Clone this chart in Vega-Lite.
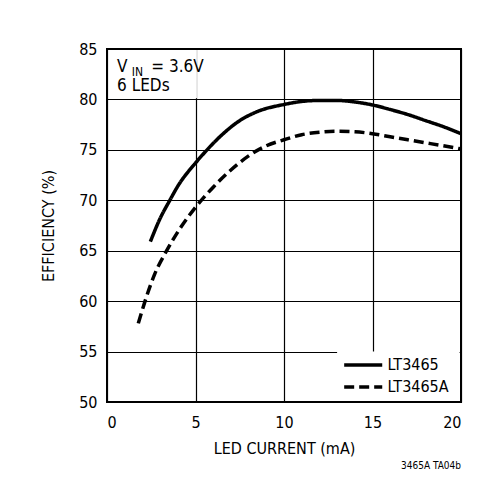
{
  "$schema": "https://vega.github.io/schema/vega-lite/v6.json",
  "autosize": "none",
  "width": 354,
  "height": 353,
  "padding": {"left": 107, "top": 49, "right": 41, "bottom": 98},
  "background": "white",
  "config": {
    "font": "DejaVu Sans Condensed",
    "view": {"stroke": "black", "strokeWidth": 2},
    "axis": {"gridColor": "black", "gridOpacity": 1, "gridWidth": 1.2, "domain": false, "ticks": false, "labelColor": "black", "titleColor": "black", "labelFontSize": 16, "titleFontSize": 16, "titleFontWeight": "normal", "labelFont": "DejaVu Sans Condensed", "titleFont": "DejaVu Sans Condensed"}
  },
  "title": {"text": "3465A TA04b", "orient": "bottom", "anchor": "end", "fontSize": 10, "fontWeight": "normal", "font": "DejaVu Sans Condensed", "offset": 5, "dx": -7, "color": "black"},
  "datasets": {
    "curves": [
      {"x": 2.45, "y": 65.9, "s": "LT3465"},
      {"x": 3.0, "y": 68.2, "s": "LT3465"},
      {"x": 3.55, "y": 70.0, "s": "LT3465"},
      {"x": 4.0, "y": 71.4, "s": "LT3465"},
      {"x": 5.0, "y": 73.7, "s": "LT3465"},
      {"x": 5.6, "y": 74.9, "s": "LT3465"},
      {"x": 6.5, "y": 76.5, "s": "LT3465"},
      {"x": 7.5, "y": 77.9, "s": "LT3465"},
      {"x": 8.5, "y": 78.8, "s": "LT3465"},
      {"x": 10.0, "y": 79.5, "s": "LT3465"},
      {"x": 11.0, "y": 79.8, "s": "LT3465"},
      {"x": 12.0, "y": 79.9, "s": "LT3465"},
      {"x": 13.0, "y": 79.9, "s": "LT3465"},
      {"x": 14.0, "y": 79.75, "s": "LT3465"},
      {"x": 15.0, "y": 79.45, "s": "LT3465"},
      {"x": 16.0, "y": 79.0, "s": "LT3465"},
      {"x": 17.0, "y": 78.5, "s": "LT3465"},
      {"x": 18.0, "y": 77.9, "s": "LT3465"},
      {"x": 19.0, "y": 77.3, "s": "LT3465"},
      {"x": 20.0, "y": 76.6, "s": "LT3465"},
      {"x": 1.77, "y": 57.8, "s": "LT3465A"},
      {"x": 2.15, "y": 60.0, "s": "LT3465A"},
      {"x": 2.7, "y": 62.7, "s": "LT3465A"},
      {"x": 3.37, "y": 65.0, "s": "LT3465A"},
      {"x": 4.2, "y": 67.4, "s": "LT3465A"},
      {"x": 5.0, "y": 69.3, "s": "LT3465A"},
      {"x": 6.0, "y": 71.3, "s": "LT3465A"},
      {"x": 7.0, "y": 73.0, "s": "LT3465A"},
      {"x": 8.0, "y": 74.4, "s": "LT3465A"},
      {"x": 9.0, "y": 75.4, "s": "LT3465A"},
      {"x": 10.0, "y": 76.0, "s": "LT3465A"},
      {"x": 11.0, "y": 76.5, "s": "LT3465A"},
      {"x": 12.0, "y": 76.75, "s": "LT3465A"},
      {"x": 13.0, "y": 76.85, "s": "LT3465A"},
      {"x": 14.0, "y": 76.8, "s": "LT3465A"},
      {"x": 15.0, "y": 76.6, "s": "LT3465A"},
      {"x": 16.0, "y": 76.3, "s": "LT3465A"},
      {"x": 17.0, "y": 76.0, "s": "LT3465A"},
      {"x": 18.0, "y": 75.7, "s": "LT3465A"},
      {"x": 19.0, "y": 75.4, "s": "LT3465A"},
      {"x": 20.0, "y": 75.1, "s": "LT3465A"}
    ],
    "boxes": [
      {"x1": 0.1, "x2": 5.08, "y1": 80.12, "y2": 84.9},
      {"x1": 13.0, "x2": 19.92, "y1": 50.1, "y2": 55.0}
    ],
    "labels": [
      {"t": "V", "x": 0.57, "y": 82.75, "size": 17},
      {"t": "IN", "x": 1.4, "y": 82.3, "size": 12},
      {"t": "= 3.6V", "x": 2.5, "y": 82.75, "size": 17},
      {"t": "6 LEDs", "x": 0.57, "y": 80.8, "size": 17}
    ],
    "legend": [
      {"s": "LT3465", "x1": 13.4, "x2": 15.55, "y": 53.67, "tx": 15.85},
      {"s": "LT3465A", "x1": 13.4, "x2": 15.55, "y": 51.49, "tx": 15.85}
    ]
  },
  "layer": [
    {
      "data": {"name": "boxes"},
      "mark": {"type": "rect", "fill": "white"},
      "encoding": {
        "x": {"field": "x1", "type": "quantitative", "scale": {"domain": [0, 20]}, "axis": {"values": [0, 5, 10, 15, 20], "title": "LED CURRENT (mA)", "labelPadding": 12, "titlePadding": 10, "grid": true}},
        "x2": {"field": "x2"},
        "y": {"field": "y1", "type": "quantitative", "scale": {"domain": [50, 85]}, "axis": {"values": [50, 55, 60, 65, 70, 75, 80, 85], "title": "EFFICIENCY (%)", "labelPadding": 10, "titlePadding": 22, "grid": true}},
        "y2": {"field": "y2"}
      }
    },
    {
      "data": {"name": "labels"},
      "mark": {"type": "text", "align": "left", "baseline": "alphabetic", "color": "black", "font": "DejaVu Sans Condensed"},
      "encoding": {
        "x": {"field": "x", "type": "quantitative"},
        "y": {"field": "y", "type": "quantitative"},
        "text": {"field": "t"},
        "size": {"field": "size", "type": "quantitative", "scale": null}
      }
    },
    {
      "data": {"name": "curves"},
      "mark": {"type": "line", "interpolate": "monotone", "strokeWidth": 3.5, "color": "black"},
      "encoding": {
        "x": {"field": "x", "type": "quantitative"},
        "y": {"field": "y", "type": "quantitative"},
        "detail": {"field": "s"},
        "strokeDash": {
          "field": "s", "type": "nominal",
          "scale": {"domain": ["LT3465", "LT3465A"], "range": [[1, 0], [10, 5]]},
          "legend": null
        }
      }
    },
    {
      "data": {"name": "legend"},
      "mark": {"type": "rule", "strokeWidth": 3.5, "color": "black"},
      "encoding": {
        "x": {"field": "x1", "type": "quantitative"},
        "x2": {"field": "x2"},
        "y": {"field": "y", "type": "quantitative"},
        "strokeDash": {"field": "s", "type": "nominal", "legend": null}
      }
    },
    {
      "data": {"name": "legend"},
      "mark": {"type": "text", "align": "left", "baseline": "middle", "fontSize": 16, "color": "black", "font": "DejaVu Sans Condensed"},
      "encoding": {
        "x": {"field": "tx", "type": "quantitative"},
        "y": {"field": "y", "type": "quantitative"},
        "text": {"field": "s"}
      }
    }
  ]
}
